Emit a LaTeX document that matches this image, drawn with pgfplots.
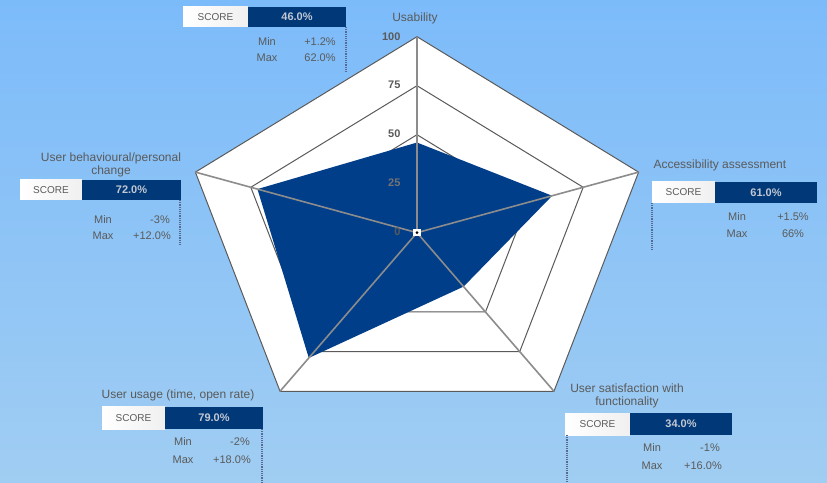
\documentclass[border=0pt]{standalone}
\usepackage{pgfplots}
\pgfplotsset{compat=1.18}
\usepackage{pgfplotstable}
\usepackage{fontspec}
\setmainfont{Liberation Sans}
\definecolor{bgtop}{RGB}{124,187,250}
\definecolor{bgbot}{RGB}{160,205,242}
\definecolor{navy}{RGB}{0,62,138}
\definecolor{boxnavy}{RGB}{0,56,120}
\definecolor{gridc}{RGB}{90,90,90}
\definecolor{spoke}{RGB}{140,140,140}
\definecolor{txt}{RGB}{90,90,90}
\definecolor{boxtxt}{RGB}{195,200,210}
\definecolor{dotc}{RGB}{85,105,145}

% category angles (deg) and values
\pgfplotstableread{
a v
90 46
18 61
-54 34
-126 79
162 72
90 46
}\datatab

\pgfplotstableread{
a r100 r75 r50 r25
90 100 75 50 25
18 100 75 50 25
-54 100 75 50 25
-126 100 75 50 25
162 100 75 50 25
90 100 75 50 25
}\rings

\pgfplotstableread{
a v
90 0
90 100
}\spA
\pgfplotstableread{
a v
18 0
18 100
}\spB
\pgfplotstableread{
a v
-54 0
-54 100
}\spC
\pgfplotstableread{
a v
-126 0
-126 100
}\spD
\pgfplotstableread{
a v
162 0
162 100
}\spE

\newcommand{\Pt}[2]{(#1pt,{482pt-#2pt})}

\newcommand{\scorebox}[6]{%
  \shade[left color=white, right color=black!6] \Pt{#1}{#4} rectangle \Pt{#2}{#5};
  \fill[boxnavy] \Pt{#2}{#4} rectangle \Pt{#3}{#5};
  \node[txt, font=\fontsize{10}{12}\selectfont] at ({(#1pt+#2pt)/2},{482pt-(#4pt+#5pt)/2}) {SCORE};
  \node[boxtxt, font=\bfseries\fontsize{11}{13}\selectfont] at ({(#2pt+#3pt)/2},{482pt-(#4pt+#5pt)/2}) {#6};
}

\begin{document}
\begin{tikzpicture}
\useasboundingbox (0,0) rectangle (827pt,482pt);
\shade[top color=bgtop, bottom color=bgbot] (0,0) rectangle (827pt,482pt);

\begin{axis}[
  at={(417pt,249.3pt)}, anchor=origin,
  x=2.33pt, y=1.96pt,
  xmin=-110, xmax=110, ymin=-110, ymax=110,
  axis lines=none, clip=false,
  ticks=none,
]
\addplot[draw=gridc, line width=1pt, fill=white]
  table[x expr={\thisrow{r100}*cos(\thisrow{a})}, y expr={\thisrow{r100}*sin(\thisrow{a})}] {\rings} -- cycle;
\addplot[draw=gridc, line width=1pt]
  table[x expr={\thisrow{r75}*cos(\thisrow{a})}, y expr={\thisrow{r75}*sin(\thisrow{a})}] {\rings} -- cycle;
\addplot[draw=gridc, line width=1pt]
  table[x expr={\thisrow{r50}*cos(\thisrow{a})}, y expr={\thisrow{r50}*sin(\thisrow{a})}] {\rings} -- cycle;
\addplot[draw=gridc, line width=1pt]
  table[x expr={\thisrow{r25}*cos(\thisrow{a})}, y expr={\thisrow{r25}*sin(\thisrow{a})}] {\rings} -- cycle;
\addplot[draw=none, fill=navy]
  table[x expr={\thisrow{v}*cos(\thisrow{a})}, y expr={\thisrow{v}*sin(\thisrow{a})}] {\datatab} -- cycle;
\addplot[draw=spoke, line width=1.6pt]
  table[x expr={\thisrow{v}*cos(\thisrow{a})}, y expr={\thisrow{v}*sin(\thisrow{a})}] {\spA};
\addplot[draw=spoke, line width=1.6pt]
  table[x expr={\thisrow{v}*cos(\thisrow{a})}, y expr={\thisrow{v}*sin(\thisrow{a})}] {\spB};
\addplot[draw=spoke, line width=1.6pt]
  table[x expr={\thisrow{v}*cos(\thisrow{a})}, y expr={\thisrow{v}*sin(\thisrow{a})}] {\spC};
\addplot[draw=spoke, line width=1.6pt]
  table[x expr={\thisrow{v}*cos(\thisrow{a})}, y expr={\thisrow{v}*sin(\thisrow{a})}] {\spD};
\addplot[draw=spoke, line width=1.6pt]
  table[x expr={\thisrow{v}*cos(\thisrow{a})}, y expr={\thisrow{v}*sin(\thisrow{a})}] {\spE};
\end{axis}

\begin{scope}[font=\bfseries\fontsize{11}{13}\selectfont, text=txt]
\node[anchor=east] at \Pt{404}{37} {100};
\node[anchor=east] at \Pt{404}{85} {75};
\node[anchor=east] at \Pt{404}{134} {50};
\node[anchor=east, text=black!55] at \Pt{404}{183} {25};
\node[anchor=east] at \Pt{404}{232} {0};
\end{scope}
\fill[white] \Pt{413}{229} rectangle \Pt{421}{236};
\fill[black] (417pt,249.3pt) circle (1.5pt);

\begin{scope}[font=\fontsize{12}{13.5}\selectfont, text=txt]
\node at \Pt{415}{18} {Usability};
\node[anchor=west] at \Pt{650}{165} {Accessibility assessment};
\node[align=center] at \Pt{627}{396} {User satisfaction with\\functionality};
\node at \Pt{178}{395} {User usage (time, open rate)};
\node[align=center] at \Pt{111}{165} {User behavioural/personal\\change};
\end{scope}

\scorebox{183}{248}{346}{7}{27}{46.0\%}
\scorebox{20}{82}{181}{180}{200}{72.0\%}
\scorebox{652}{715}{817}{182}{203}{61.0\%}
\scorebox{102}{165}{263}{407}{429}{79.0\%}
\scorebox{565}{630}{732}{413}{435}{34.0\%}

\begin{scope}[font=\fontsize{11}{13}\selectfont, text=txt]
\node at \Pt{267}{42} {Min}; \node at \Pt{320}{42} {+1.2\%};
\node at \Pt{267}{58} {Max}; \node at \Pt{320}{58} {62.0\%};
\node at \Pt{103}{220} {Min}; \node at \Pt{160}{220} {-3\%};
\node at \Pt{103}{236} {Max}; \node at \Pt{152}{236} {+12.0\%};
\node at \Pt{737}{217} {Min}; \node at \Pt{793}{217} {+1.5\%};
\node at \Pt{737}{234} {Max}; \node at \Pt{793}{234} {66\%};
\node at \Pt{183}{442} {Min}; \node at \Pt{240}{442} {-2\%};
\node at \Pt{183}{460} {Max}; \node at \Pt{232}{460} {+18.0\%};
\node at \Pt{652}{448} {Min}; \node at \Pt{710}{448} {-1\%};
\node at \Pt{652}{466} {Max}; \node at \Pt{703}{466} {+16.0\%};
\end{scope}

\begin{scope}[dotc, densely dotted, line width=1.2pt]
\draw \Pt{346}{27} -- \Pt{346}{72};
\draw \Pt{180}{200} -- \Pt{180}{246};
\draw \Pt{652}{203} -- \Pt{652}{250};
\draw \Pt{262}{429} -- \Pt{262}{482};
\draw \Pt{567}{435} -- \Pt{567}{482};
\end{scope}
\end{tikzpicture}
\end{document}
